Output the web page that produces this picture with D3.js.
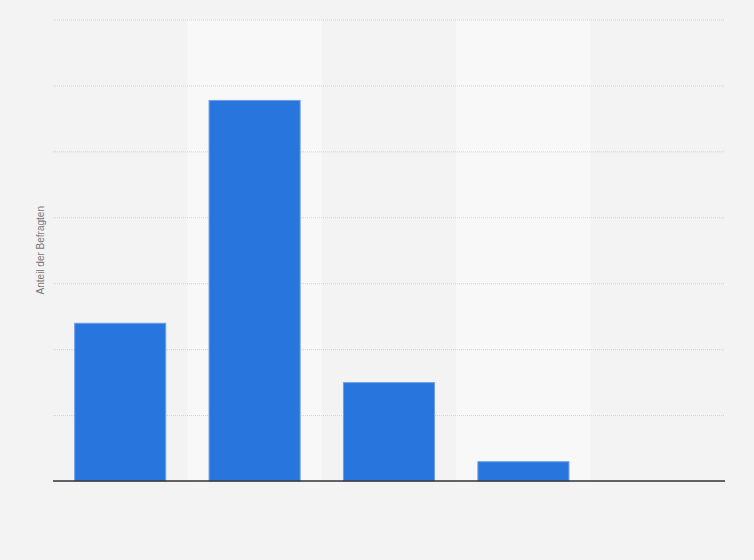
<!DOCTYPE html>
<html>
<head>
<meta charset="utf-8">
<script src="https://cdn.jsdelivr.net/npm/d3@7"></script>
<style>
  html, body { margin: 0; padding: 0; background: #f3f3f3; }
  svg { display: block; }
</style>
</head>
<body>
<div id="chart"></div>
<script>
// Daten (keine Kategorienamen im Bild sichtbar)
var categories = [0, 1, 2, 3, 4]
var values = [12, 28.9, 7.5, 1.5, 0]
var yTicks = [0, 5, 10, 15, 20, 25, 30, 35]
var yLabel = "Anteil der Befragten"

var width = 754, height = 560
var margin = { top: 19.5, right: 29, bottom: 79, left: 53 }

var svg = d3.select("#chart")
    .append("svg")
    .attr("width", width)
    .attr("height", height)

svg.append("rect")
    .attr("width", width)
    .attr("height", height)
    .attr("fill", "#f3f3f3")

var x = d3.scaleBand()
    .domain(categories)
    .range([margin.left, width - margin.right])
    .paddingInner(0.315)
    .paddingOuter(0.1575)

var y = d3.scaleLinear()
    .domain([0, 35])
    .range([height - margin.bottom, margin.top])

var step = x.step()

// hellere Streifen hinter jeder zweiten Kategorie
svg.append("g")
    .selectAll("rect")
    .data(categories.filter(function (d, i) { return i % 2 == 1 }))
    .enter()
    .append("rect")
    .attr("x", d => x(d) - x.bandwidth() * 0 - (step - x.bandwidth()) / 2)
    .attr("y", y(35))
    .attr("width", step)
    .attr("height", y(0) - y(35))
    .attr("fill", "#f8f8f8")

// Gitterlinien
svg.append("g")
    .attr("transform", "translate(" + margin.left + ",0)")
    .call(d3.axisLeft(y).tickValues(yTicks.slice(1)).tickSize(-(width - margin.left - margin.right)).tickFormat(""))
    .call(g => g.select(".domain").remove())
    .call(g => g.selectAll("line")
        .attr("stroke", "#d2d2d2")
        .attr("stroke-width", 1)
        .attr("stroke-dasharray", "1,1"))

// Balken
svg.append("g")
    .selectAll("rect")
    .data(values)
    .enter()
    .append("rect")
    .attr("x", (d, i) => x(categories[i]) + 0.5)
    .attr("y", d => y(d) + 0.5)
    .attr("width", x.bandwidth() - 1)
    .attr("height", d => Math.max(0, y(0) - y(d) - 0.5))
    .attr("fill", "#2876dd")
    .attr("stroke", "#6d9fe6")
    .attr("stroke-width", 1)
    .attr("display", d => d > 0 ? null : "none")

// Grundlinie
svg.append("line")
    .attr("x1", margin.left)
    .attr("x2", width - margin.right)
    .attr("y1", y(0))
    .attr("y2", y(0))
    .attr("stroke", "#333")
    .attr("stroke-width", 1.5)

// Achsentitel
svg.append("text")
    .attr("transform", "translate(43.5," + (y(0) + y(35)) / 2 + ") rotate(-90)")
    .attr("text-anchor", "middle")
    .attr("font-family", "Liberation Sans, Arial, sans-serif")
    .attr("font-size", 10)
    .attr("fill", "#777")
    .text(yLabel)
</script>
</body>
</html>
